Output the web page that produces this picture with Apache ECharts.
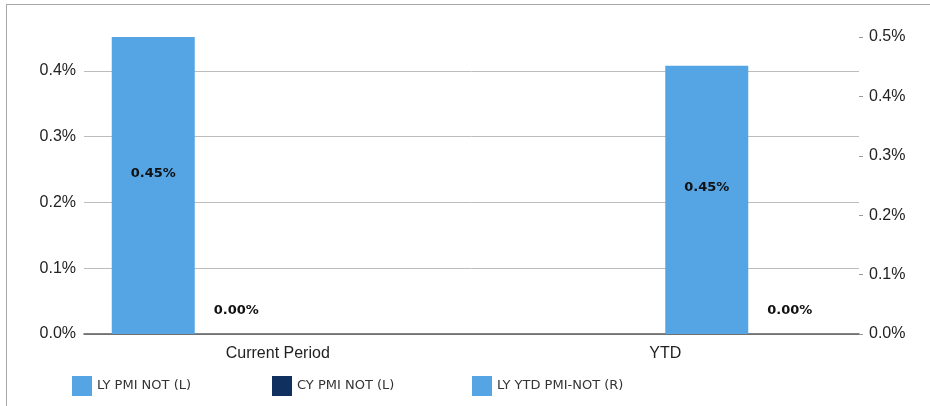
<!DOCTYPE html>
<html>
<head>
<meta charset="utf-8">
<script src="https://cdn.jsdelivr.net/npm/echarts@6/dist/echarts.min.js"></script>
<style>
  html, body { margin: 0; padding: 0; background: #fff; }
  #wrap { position: relative; width: 930px; height: 406px; overflow: hidden; }
  #frame {
    position: absolute; left: 6px; top: 4px; width: 1000px; height: 500px;
    border-top: 1px solid #a8a8a8; border-left: 1px solid #a8a8a8;
  }
  #myChart { position: absolute; left: 0; top: 0; width: 930px; height: 406px; }
</style>
</head>
<body>
<div id="wrap">
  <div id="frame"></div>
  <div id="myChart"></div>
</div>
<script type="text/javascript">
// categories
const categories = ['Current Period', 'YTD']
// series values (percent units)
const lyPmiNot = [0.4517, null]
const cyPmiNot = [0, null]
const lyYtdPmiNot = [null, 0.4517]
const cyYtdPmiNot = [null, 0]
// left axis ticks 0.0 .. 0.4, right axis 0.0 .. 0.5
const leftMax = 0.4517
const rightMax = 0.5

const LIGHT = '#55a5e5'
const DARK = '#10305f'

const pct2 = p => p.value == null ? '' : p.value.toFixed(2) + '%'

const insideLabel = {
  show: true,
  position: 'inside',
  offset: [0, -12],
  formatter: pct2,
  color: '#111',
  fontFamily: 'DejaVu Sans',
  fontWeight: 'bold',
  fontSize: 13
}
const topLabel = {
  show: true,
  position: 'top',
  distance: 17,
  formatter: pct2,
  color: '#111',
  fontFamily: 'DejaVu Sans',
  fontWeight: 'bold',
  fontSize: 13
}

const legendBase = {
  top: 376,
  padding: 0,
  itemWidth: 20,
  itemHeight: 20,
  icon: 'rect',
  selectedMode: false,
  textStyle: {color: '#333', fontFamily: 'DejaVu Sans', fontSize: 13}
}

let myChart = echarts.init(document.getElementById('myChart'))
myChart.setOption({
  animation: false,
  grid: {left: 84, right: 71, top: 37, bottom: 72},
  legend: [
    Object.assign({left: 72, data: ['LY PMI NOT (L)']}, legendBase),
    Object.assign({left: 272, data: ['CY PMI NOT (L)']}, legendBase),
    Object.assign({left: 472, data: ['LY YTD PMI-NOT (R)']}, legendBase)
  ],
  xAxis: {
    type: 'category',
    data: categories,
    axisLine: {lineStyle: {color: '#5a5a5a', width: 1.5}},
    axisTick: {alignWithLabel: true, length: 4, lineStyle: {color: '#aaa'}},
    axisLabel: {color: '#222', fontFamily: 'Liberation Sans', fontSize: 16, margin: 12}
  },
  yAxis: [
    {
      type: 'value',
      min: 0,
      max: leftMax,
      interval: 0.1,
      axisLine: {show: false},
      axisTick: {show: false},
      splitLine: {show: true, showMaxLine: false, lineStyle: {color: '#bdbdbd', width: 1}},
      axisLabel: {
        showMaxLabel: false,
        margin: 8,
        color: '#222',
        fontFamily: 'Liberation Sans',
        fontSize: 16,
        formatter: v => v.toFixed(1) + '%'
      }
    },
    {
      type: 'value',
      position: 'right',
      min: 0,
      max: rightMax,
      interval: 0.1,
      axisLine: {show: false},
      axisTick: {show: true, length: 4, lineStyle: {color: '#999'}},
      splitLine: {show: false},
      axisLabel: {
        margin: 10,
        color: '#222',
        fontFamily: 'Liberation Sans',
        fontSize: 16,
        formatter: v => v.toFixed(1) + '%'
      }
    }
  ],
  series: [
    {
      name: 'LY PMI NOT (L)', type: 'bar', yAxisIndex: 0,
      barWidth: 83, barGap: '0%',
      itemStyle: {color: LIGHT}, label: insideLabel, data: lyPmiNot
    },
    {
      name: 'CY PMI NOT (L)', type: 'bar', yAxisIndex: 0,
      barWidth: 83, barGap: '0%',
      itemStyle: {color: DARK}, label: topLabel, data: cyPmiNot
    },
    {
      name: 'LY YTD PMI-NOT (R)', type: 'bar', yAxisIndex: 1,
      barWidth: 83, barGap: '0%',
      itemStyle: {color: LIGHT}, label: insideLabel, data: lyYtdPmiNot
    },
    {
      name: 'CY YTD PMI-NOT (R)', type: 'bar', yAxisIndex: 1,
      barWidth: 83, barGap: '0%',
      itemStyle: {color: DARK}, label: topLabel, data: cyYtdPmiNot
    }
  ]
})
</script>
</body>
</html>
